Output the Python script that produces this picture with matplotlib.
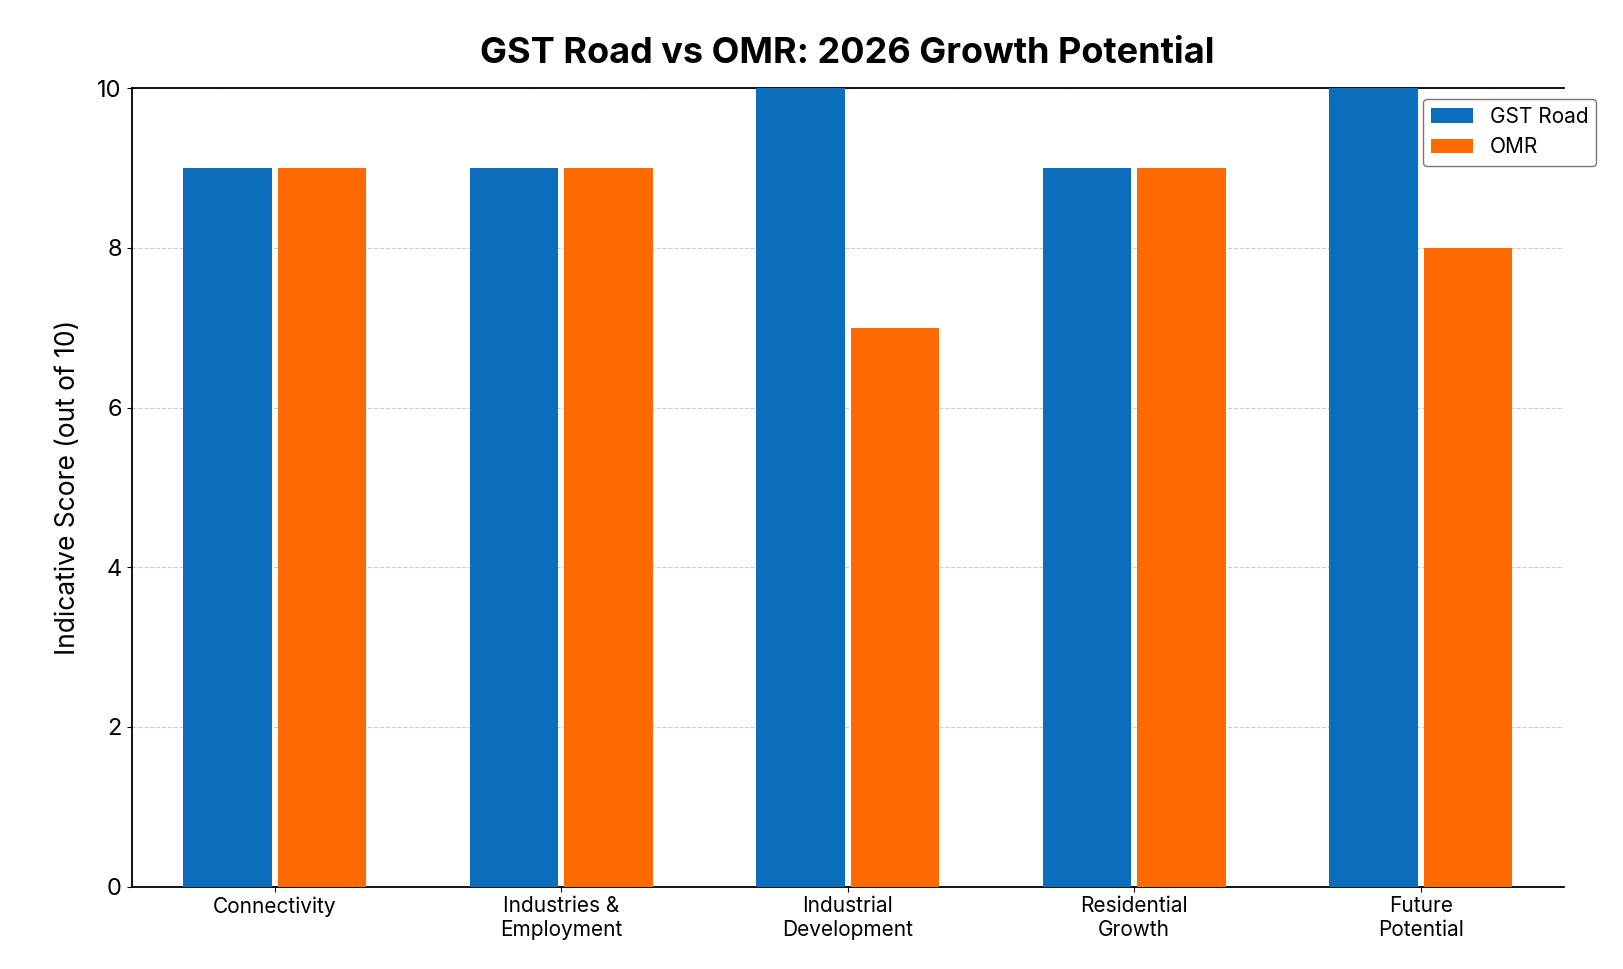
import matplotlib.pyplot as plt
import numpy as np

categories = ["Connectivity", "Industries &\nEmployment", "Industrial\nDevelopment",
              "Residential\nGrowth", "Future\nPotential"]
gst_road = [9, 9, 10, 9, 10]
omr = [9, 9, 7, 9, 8]

plt.rcParams['font.family'] = ['Inter', 'DejaVu Sans']

fig = plt.figure(figsize=(16.24, 9.69), dpi=100)
ax = fig.add_axes([0.081, 0.085, 0.882, 0.824])

x = np.arange(len(categories))
w = 0.31
ax.bar(x - 0.165, gst_road, w, color='#0A6EBD', label='GST Road', zorder=3)
ax.bar(x + 0.165, omr, w, color='#FF6A00', label='OMR', zorder=3)

ax.set_ylim(0, 10)
ax.set_xlim(-0.5, 4.5)
ax.set_yticks([0, 2, 4, 6, 8, 10])
ax.tick_params(axis='y', labelsize=17)
ax.set_xticks(x)
ax.set_xticklabels(categories, fontsize=15)
ax.set_ylabel("Indicative Score (out of 10)", fontsize=19, labelpad=12)
ax.set_title("GST Road vs OMR: 2026 Growth Potential", fontsize=26, fontweight='bold', pad=18)
ax.grid(axis='y', linestyle='--', color='#cccccc', linewidth=0.8, zorder=0)
ax.spines['right'].set_visible(False)
for s in ['top', 'left', 'bottom']:
    ax.spines[s].set_linewidth(1.3)

ax.legend(loc='upper right', bbox_to_anchor=(1.03, 1.0), fontsize=15,
          frameon=True, edgecolor='#555555', fancybox=True)

plt.savefig("out.png", dpi=100)
